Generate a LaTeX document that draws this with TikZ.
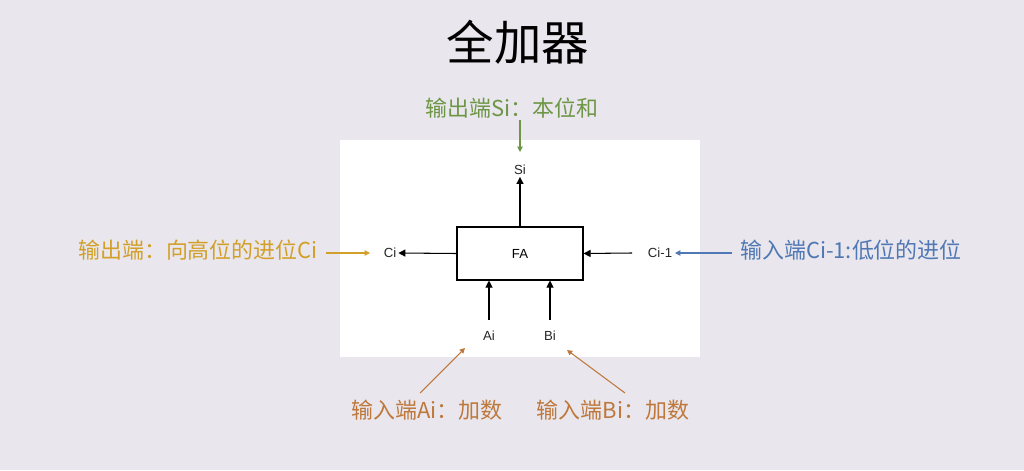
\documentclass[tikz,border=0pt]{standalone}
\usepackage{fontspec}
\setmainfont{Liberation Sans}
\newfontfamily\cjk{Noto Sans CJK SC}
\usetikzlibrary{arrows.meta}
\definecolor{bgcol}{RGB}{233,231,237}
\definecolor{sumcol}{RGB}{110,150,70}
\definecolor{carrycol}{RGB}{210,160,40}
\definecolor{incol}{RGB}{80,120,180}
\definecolor{addcol}{RGB}{190,120,60}

\begin{document}
\begin{tikzpicture}[
    x=0.02cm, y=-0.02cm,
    >={Triangle[length=4pt,width=4pt]},
    pin label/.style={font=\fontsize{7.5}{9}\selectfont, text=black!85, inner sep=1pt},
    note/.style={font=\cjk\fontsize{12.5}{15}\selectfont, inner sep=1pt},
    sig/.style={->, black, line width=0.6pt},
    hint/.style={-{Triangle[length=3pt,width=3pt]}, line width=0.6pt}
]
    % --- BACKGROUND ---
    \fill[bgcol] (0,0) rectangle (1024,470);
    \useasboundingbox (0,0) rectangle (1024,470);
    \fill[white] (340,140) rectangle (700,357);

    % --- TITLE ---
    \node[font=\cjk\fontsize{27}{31}\selectfont] (title) at (518,42) {全加器};

    % --- FULL ADDER ---
    \node[draw, line width=0.6pt, minimum width=2.52cm, minimum height=1.06cm,
          font=\fontsize{7.5}{9}\selectfont] (fa) at (520,253.5) {FA};

    % pins
    \node[pin label] (si) at (520,170) {Si};
    \node[pin label] (ci) at (390,253) {Ci};
    \node[pin label] (cin) at (660,253) {Ci-1};
    \node[pin label] (ai) at (489,336) {Ai};
    \node[pin label] (bi) at (550,336) {Bi};

    \coordinate (aiend) at (489,320);
    \coordinate (biend) at (550,320);
    \coordinate (cinend) at (632,253);

    \draw[sig] (fa.north -| si) -- (si.south);
    \draw[sig] (fa.west) -- (ci.east);
    \draw[sig] (cinend) -- (fa.east);
    \draw[sig] (aiend) -- (aiend |- fa.south);
    \draw[sig] (biend) -- (biend |- fa.south);

    % --- ANNOTATIONS ---
    \node[note, text=sumcol] (sumnote) at (512,108) {输出端Si：本位和};
    \node[note, text=carrycol] (carrynote) at (198,250) {输出端：向高位的进位Ci};
    \node[note, text=incol] (innote) at (851,250) {输入端Ci-1:低位的进位};
    \node[note, text=addcol] (anote) at (427,410) {输入端Ai：加数};
    \node[note, text=addcol] (bnote) at (613,410) {输入端Bi：加数};

    \coordinate (sumtip) at (520,152);
    \coordinate (carrytip) at (370,253);
    \coordinate (intip) at (675,253);
    \coordinate (atip) at (465,348);
    \coordinate (btip) at (567,350);

    \draw[hint, sumcol] (sumnote.south -| sumtip) -- (sumtip);
    \draw[hint, carrycol] (carrynote.east |- carrytip) ++(6,0) -- (carrytip);
    \draw[hint, incol] (innote.west |- intip) ++(-6,0) -- (intip);
    \draw[hint, addcol] (420,393) -- (atip);
    \draw[hint, addcol] (625,393) -- (btip);
\end{tikzpicture}
\end{document}
